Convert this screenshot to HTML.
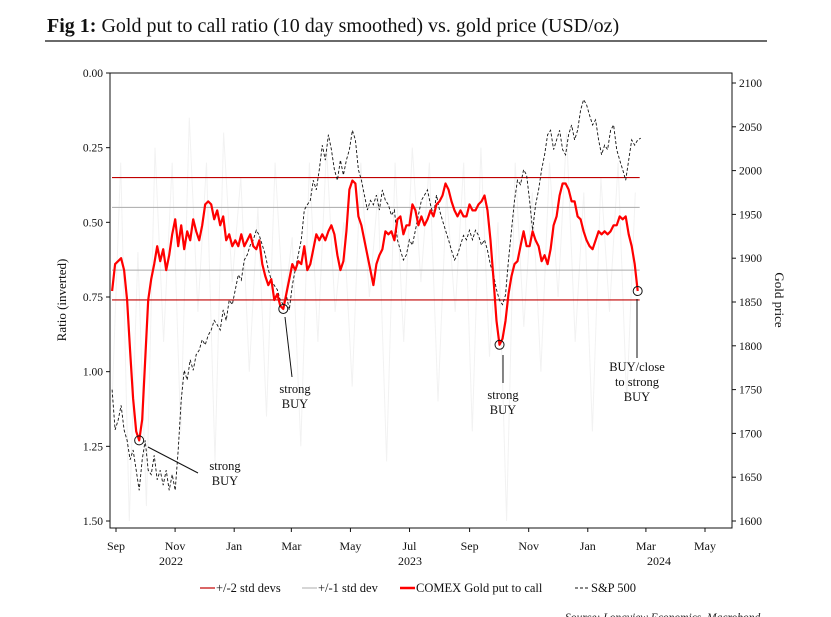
<!DOCTYPE html>
<html><head><meta charset="utf-8">
<style>
html,body{margin:0;padding:0;background:#fff;width:831px;height:617px;overflow:hidden;font-family:"Liberation Serif",serif;}
</style></head>
<body>
<svg id="chart" width="831" height="617" xmlns="http://www.w3.org/2000/svg">
<text x="47" y="32" font-size="20" fill="#111"><tspan font-weight="bold">Fig 1:</tspan> Gold put to call ratio (10 day smoothed) vs. gold price (USD/oz)</text>
<line x1="45" y1="41" x2="767" y2="41" stroke="#111" stroke-width="1.2"/>
<g id="plot"></g>
<text x="565" y="621" font-size="11.5" font-style="italic" fill="#222">Source: Longview Economics, Macrobond</text>
</svg>
<script>
const startDay = -4; const stepDays = 3.1;
const ratioValues = [.73,.64,.63,.62,.66,.76,.93,1.09,1.20,1.23,1.16,.96,.76,.69,.64,.58,.63,.59,.66,.61,.54,.49,.58,.51,.59,.53,.56,.49,.53,.56,.51,.44,.43,.44,.49,.46,.51,.48,.56,.54,.58,.56,.58,.54,.58,.56,.54,.58,.59,.56,.64,.68,.71,.69,.76,.74,.78,.79,.74,.69,.64,.66,.63,.64,.58,.66,.64,.59,.54,.56,.54,.56,.53,.51,.54,.61,.66,.63,.53,.39,.36,.37,.48,.51,.56,.61,.66,.71,.64,.61,.59,.53,.54,.53,.56,.49,.48,.54,.51,.51,.44,.46,.51,.48,.51,.49,.46,.48,.44,.43,.41,.37,.39,.43,.46,.48,.46,.48,.48,.44,.46,.46,.44,.43,.41,.46,.56,.69,.83,.91,.89,.83,.74,.68,.64,.63,.58,.53,.58,.58,.53,.56,.58,.63,.61,.64,.59,.51,.48,.41,.37,.37,.39,.43,.43,.48,.49,.53,.56,.58,.59,.56,.53,.54,.53,.54,.53,.51,.51,.48,.49,.48,.54,.58,.64,.73];
const goldValues = [1750,1704,1715,1732,1704,1692,1670,1681,1658,1635,1670,1692,1658,1653,1675,1647,1658,1641,1658,1635,1653,1635,1681,1738,1772,1761,1784,1772,1790,1795,1807,1801,1812,1818,1829,1824,1818,1841,1829,1852,1847,1864,1881,1875,1898,1904,1915,1921,1932,1926,1915,1904,1887,1875,1869,1864,1852,1847,1858,1841,1869,1887,1904,1921,1955,1961,1966,1989,1978,2001,2029,2012,2041,2024,2001,1989,2012,1995,2012,2024,2046,2035,2001,1989,1972,1955,1966,1961,1972,1955,1978,1966,1961,1949,1955,1921,1909,1898,1904,1921,1915,1932,1949,1966,1972,1978,1961,1949,1972,1955,1943,1932,1921,1909,1898,1904,1915,1926,1921,1932,1921,1932,1926,1915,1921,1909,1892,1881,1864,1852,1847,1858,1898,1932,1966,1989,1984,2001,1995,1966,1932,1961,1978,2001,2018,2041,2046,2024,2035,2046,2024,2018,2041,2052,2035,2046,2069,2081,2075,2063,2052,2058,2035,2018,2029,2024,2046,2052,2024,2012,2001,1989,2012,2035,2029,2035,2037];
const rawRatioValues = [1.1,0.3,1.5,0.6,1.45,0.25,0.9,0.3,1.2,0.15,0.8,0.3,1.3,0.2,0.7,0.35,1.0,0.45,1.15,0.3,0.8,0.55,1.25,0.3,0.9,0.25,0.8,0.5,1.05,0.3,0.75,0.4,1.3,0.3,0.9,0.25,0.7,0.3,1.1,0.4,0.8,0.3,1.2,0.25,0.95,0.5,1.5,0.3,0.85,0.4,1.0,0.3,0.75,0.2,0.9,0.4,1.2,0.35,0.8,0.3,1.1,0.4];
const stdRed = [0.35,0.76]; const stdGray = [0.45,0.66];
const xTickLabels = ['Sep','Nov','Jan','Mar','May','Jul','Sep','Nov','Jan','Mar','May'];
const xTickDays = [0,61,122,181,242,303,365,426,487,547,608];
const leftTicks = [0,0.25,0.5,0.75,1.0,1.25,1.5];
const rightTicks = [1600,1650,1700,1750,1800,1850,1900,1950,2000,2050,2100];
const signalDays = [25,174,398,540];

const X0=110,X1=732,Y0=73,Y1=528;
const xS = d => 116 + d*(589/608);
const yL = r => 73 + r*(448/1.5);
const yR = g => 521 - (g-1600)*(438/500);
const NS='http://www.w3.org/2000/svg';
const plot=document.getElementById('plot');
function el(tag,attrs,parent){const e=document.createElementNS(NS,tag);for(const k in attrs)e.setAttribute(k,attrs[k]);(parent||plot).appendChild(e);return e;}
function txt(x,y,s,attrs){const t=el('text',Object.assign({x:x,y:y,'font-size':11,fill:'#111'},attrs||{}));t.textContent=s;return t;}

let rp=rawRatioValues.map((v,i)=>[xS(startDay+i*(540/(rawRatioValues.length-1))),yL(Math.min(v,1.5))]);
const raw=el('path',{d:'M'+rp.map(p=>p[0].toFixed(1)+','+p[1].toFixed(1)).join('L'),fill:'none',stroke:'#f2f2f2','stroke-width':1});



const endX = xS(startDay+(ratioValues.length-1)*stepDays)+2;
stdGray.forEach(v=>{const l=el('line',{x1:X0+2,x2:endX,y1:yL(v),y2:yL(v),stroke:'#aaa','stroke-width':1});

});
stdRed.forEach(v=>{const l=el('line',{x1:X0+2,x2:endX,y1:yL(v),y2:yL(v),stroke:'#c00000','stroke-width':1.1});

});

const gp=goldValues.map((v,i)=>xS(startDay+i*stepDays).toFixed(1)+','+yR(v).toFixed(1));
const gl=el('path',{d:'M'+gp.join('L'),fill:'none',stroke:'#111','stroke-width':0.9,'stroke-dasharray':'3,2'});



const rpp=ratioValues.map((v,i)=>xS(startDay+i*stepDays).toFixed(1)+','+yL(v).toFixed(1));
const rl=el('path',{d:'M'+rpp.join('L'),fill:'none',stroke:'#ff0000','stroke-width':2.2,'stroke-linejoin':'round'});



// signal circles at local max of ratio near each signal day
signalDays.forEach(d=>{let c0=Math.round((d-startDay)/stepDays);let best=-1;
for(let i=Math.max(0,c0-4);i<=Math.min(ratioValues.length-1,c0+4);i++){if(best<0||ratioValues[i]>ratioValues[best])best=i;}
const c=el('circle',{cx:xS(startDay+best*stepDays),cy:yL(ratioValues[best]),r:4.5,fill:'none',stroke:'#111','stroke-width':1});

});

const ann=[[148,447,198,473,'strong','BUY',225,470],[285,317,292,377,'strong','BUY',295,393],[503,355,503,383,'strong','BUY',503,399],[637,299,637,358,'BUY/close','to strong',637,371]];
ann.forEach(a=>{const l=el('line',{x1:a[0],y1:a[1],x2:a[2],y2:a[3],stroke:'#111','stroke-width':1});


const t1=txt(a[6],a[7],a[4],{'text-anchor':'middle','font-size':12.5});


const t2=txt(a[6],a[7]+15,a[5],{'text-anchor':'middle','font-size':12.5});

});
const t3=txt(637,401,'BUY',{'text-anchor':'middle','font-size':12.5});



const fr=el('rect',{x:X0,y:Y0,width:X1-X0,height:Y1-Y0,fill:'none',stroke:'#111','stroke-width':1});



leftTicks.forEach(v=>{const y=yL(v);el('line',{x1:X0-4,x2:X0,y1:y,y2:y,stroke:'#111'});
const t=txt(X0-7,y+4,v.toFixed(2),{'text-anchor':'end','font-size':11.5});

});
rightTicks.forEach(v=>{const y=yR(v);el('line',{x1:X1,x2:X1+4,y1:y,y2:y,stroke:'#111'});
const t=txt(X1+7,y+4,String(v),{'font-size':11.5});

});
xTickLabels.forEach((s,i)=>{const x=xS(xTickDays[i]);el('line',{x1:x,x2:x,y1:Y1,y2:Y1+4,stroke:'#111'});
const t=txt(x,Y1+22,s,{'text-anchor':'middle','font-size':12});

});
[['2022',171],['2023',410],['2024',659]].forEach(a=>{const t=txt(a[1],Y1+37,a[0],{'text-anchor':'middle','font-size':12});

});
const yl=txt(0,0,'Ratio (inverted)',{'text-anchor':'middle','font-size':13,transform:'translate(66,300) rotate(-90)'});


const yr=txt(0,0,'Gold price',{'text-anchor':'middle','font-size':13,transform:'translate(775,300) rotate(90)'});



const lg=el('g',{});


const items=[[200,'#c00000',1.2,'','+/-2 std devs'],[302,'#bbb',1.2,'','+/-1 std dev'],[400,'#ff0000',2.5,'','COMEX Gold put to call'],[575,'#111',1,'3,2','S&P 500']];
items.forEach(it=>{const l=el('line',{x1:it[0],x2:it[0]+15,y1:588,y2:588,stroke:it[1],'stroke-width':it[2],'stroke-dasharray':it[3]||'none'},lg);
const t=txt(it[0]+16,592,it[4],{'font-size':12.5},lg);

});
</script>
</body></html>
